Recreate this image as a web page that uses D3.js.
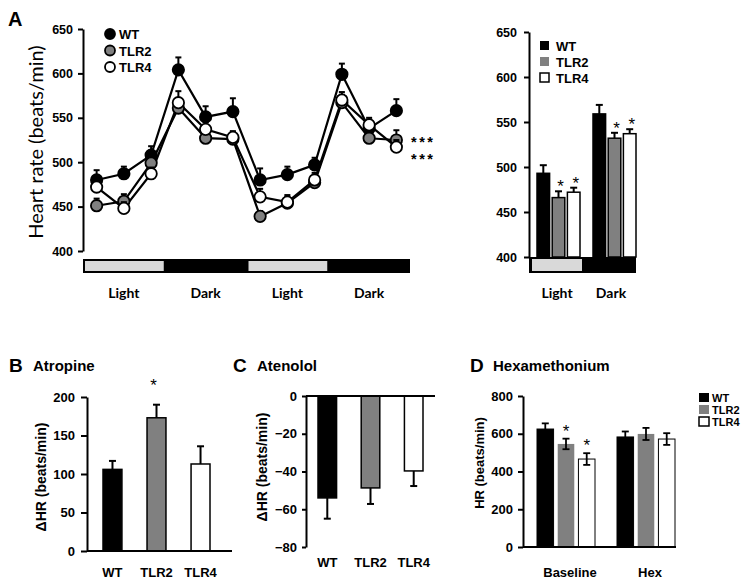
<!DOCTYPE html>
<html><head><meta charset="utf-8">
<script src="https://cdn.jsdelivr.net/npm/d3@7"></script>
<style>body{margin:0;background:#fff}svg{display:block}</style>
</head><body>
<svg id="c" width="751" height="584"></svg>
<script>
// ---------- DATA ----------
const series = ["WT", "TLR2", "TLR4"];
const timepoints = [1,2,3,4,5,6,7,8,9,10,11,12];
const periods = ["Light", "Dark", "Light", "Dark"];
const hrWT   = [480,487,508,604,551,557,480,486,497,599,538,558];
const hrTLR2 = [451,456,499,561,527,526,439,454,477,567,527,525];
const hrTLR4 = [472,448,487,567,537,528,461,455,480,570,542,517];
const errWT   = [11,8,10,14,12,15,13,9,8,12,10,13];
const errTLR2 = [8,8,8,10,8,8,6,7,7,9,8,11];
const errTLR4 = [8,7,7,13,8,7,9,8,8,9,8,8];
const yTicksA = [400,450,500,550,600,650];
const endSig = ["***", "***"];

const avgPeriods = ["Light", "Dark"];
const avgWT = [493, 559], avgTLR2 = [466, 532], avgTLR4 = [472, 537];
const avgErrWT = [9, 10], avgErrTLR2 = [7, 6], avgErrTLR4 = [5, 5];
const avgSig = [[false,true,true],[false,true,true]];

const atropine = [106, 173, 113], atropineErr = [11, 17, 23];
const atropineSig = [false, true, false];
const yTicksB = [0,50,100,150,200];

const atenolol = [-54, -48.7, -39.7], atenololErr = [11, 8.5, 8];
const yTicksC = [-80,-60,-40,-20,0];

const hexGroups = ["Baseline", "Hex"];
const hexWT = [625, 583], hexTLR2 = [546, 599], hexTLR4 = [466, 572];
const hexErrWT = [30, 29], hexErrTLR2 = [28, 32], hexErrTLR4 = [31, 31];
const hexSig = [[false,true,true],[false,false,false]];
const yTicksD = [0,200,400,600,800];

// ---------- STYLE ----------
const fills = {WT: "#000000", TLR2: "#808080", TLR4: "#ffffff"};
const AR = "'Liberation Sans', Arial, sans-serif";
const CAL = "Lato, 'Open Sans', sans-serif";
const svg = d3.select("#c");

function styleAxis(g, size) {
  g.selectAll("path.domain").attr("stroke", "#000").attr("stroke-width", 2);
  g.selectAll(".tick line").attr("stroke", "#000").attr("stroke-width", 2);
  g.selectAll(".tick text").attr("font-family", AR).attr("font-weight", "bold")
    .attr("font-size", size).attr("fill", "#000");
}
function txt(x, y, s, o = {}) {
  return svg.append("text").attr("x", x).attr("y", y).text(s)
    .attr("font-family", o.ff || AR).attr("font-weight", o.fw || "bold")
    .attr("font-size", o.fs || 13).attr("text-anchor", o.anchor || "start")
    .attr("fill", "#000");
}
function vtitle(x, cy, s, fs, ff) {
  svg.append("text").attr("transform", `translate(${x},${cy}) rotate(-90)`)
    .attr("text-anchor", "middle").attr("font-family", ff || AR)
    .attr("font-weight", ff === CAL ? "normal" : "bold")
    .attr("font-size", fs).text(s);
}

// ---------- PANEL A (line) ----------
const xA = d3.scaleBand().domain(timepoints).range([83, 410]);
const yA = d3.scaleLinear().domain([400, 650]).range([251, 29]);
const cx = t => xA(t) + xA.bandwidth() / 2;

const gAy = svg.append("g").attr("transform", "translate(83,0)")
  .call(d3.axisLeft(yA).tickValues(yTicksA).tickSize(5).tickSizeOuter(0).tickPadding(5));
styleAxis(gAy, 12.5);

// photoperiod strip
const stripA = svg.append("g");
stripA.append("rect").attr("x", 83).attr("y", 259).attr("width", 327).attr("height", 14).attr("fill", "#000");
periods.forEach((p, i) => {
  const x0 = xA(timepoints[i * 3]), x1 = x0 + 3 * xA.step();
  if (p === "Light") {
    stripA.append("rect").attr("x", x0 + 2).attr("y", 261).attr("width", x1 - x0 - 3)
      .attr("height", 10).attr("fill", "#d9d9d9");
  }
  txt((x0 + x1) / 2, 298, p, {ff: CAL, fs: 14, anchor: "middle"});
});

const lineData = [
  {s: "WT", v: hrWT, e: errWT},
  {s: "TLR2", v: hrTLR2, e: errTLR2},
  {s: "TLR4", v: hrTLR4, e: errTLR4}
];
const line = d3.line().x((d, i) => cx(timepoints[i])).y(d => yA(d));
lineData.forEach(ser => {
  svg.append("path").attr("d", line(ser.v)).attr("fill", "none")
    .attr("stroke", "#000").attr("stroke-width", 2.2);
});
lineData.forEach(ser => {
  const g = svg.append("g");
  ser.v.forEach((v, i) => {
    const x = cx(timepoints[i]);
    g.append("line").attr("x1", x).attr("x2", x).attr("y1", yA(v)).attr("y2", yA(v + ser.e[i]))
      .attr("stroke", "#000").attr("stroke-width", 2);
    g.append("line").attr("x1", x - 3).attr("x2", x + 3).attr("y1", yA(v + ser.e[i])).attr("y2", yA(v + ser.e[i]))
      .attr("stroke", "#000").attr("stroke-width", 2);
  });
  ser.v.forEach((v, i) => {
    g.append("circle").attr("cx", cx(timepoints[i])).attr("cy", yA(v)).attr("r", 5.7)
      .attr("fill", fills[ser.s]).attr("stroke", "#000").attr("stroke-width", 1.8);
  });
});
// legend
series.forEach((s, i) => {
  const y = 34 + i * 16.5;
  svg.append("circle").attr("cx", 110).attr("cy", y).attr("r", 5)
    .attr("fill", fills[s]).attr("stroke", "#000").attr("stroke-width", 1.8);
  txt(119, y + 5, s, {fs: 13});
});
endSig.forEach((s, i) => {
  txt(411, 147 + i * 16.5, s, {fs: 14.5, fw: "bold"}).attr("letter-spacing", 2.5);
});
txt(8, 26, "A", {fs: 20});
vtitle(43, 142, "Heart rate (beats/min)", 20, CAL);

// ---------- PANEL A (bars) ----------
const yR = d3.scaleLinear().domain([400, 650]).range([257, 32]);
const x0R = d3.scaleBand().domain(avgPeriods).range([537, 649]);
const x1R = d3.scaleBand().domain(series).range([0, 43]).paddingInner(0.17);
const avgVals = {WT: avgWT, TLR2: avgTLR2, TLR4: avgTLR4};
const avgErrs = {WT: avgErrWT, TLR2: avgErrTLR2, TLR4: avgErrTLR4};

svg.append("rect").attr("x", 529).attr("y", 257).attr("width", 107).attr("height", 16).attr("fill", "#000");
svg.append("rect").attr("x", 532).attr("y", 259).attr("width", x0R("Dark") - 11 - 532).attr("height", 12).attr("fill", "#d9d9d9");

avgPeriods.forEach((p, pi) => {
  series.forEach((s, si) => {
    const x = x0R(p) + x1R(s), w = x1R.bandwidth(), v = avgVals[s][pi], e = avgErrs[s][pi];
    const xc = x + w / 2;
    svg.append("line").attr("x1", xc).attr("x2", xc).attr("y1", yR(v)).attr("y2", yR(v + e)).attr("stroke", "#000").attr("stroke-width", 2);
    svg.append("line").attr("x1", xc - 3.5).attr("x2", xc + 3.5).attr("y1", yR(v + e)).attr("y2", yR(v + e)).attr("stroke", "#000").attr("stroke-width", 2);
    svg.append("rect").attr("x", x).attr("y", yR(v)).attr("width", w).attr("height", yR(400) - yR(v))
      .attr("fill", fills[s]).attr("stroke", "#000").attr("stroke-width", 1.5);
    if (avgSig[pi][si]) txt(xc + 2, yR(v + e) + 1, "*", {fs: 17, anchor: "middle", fw: "normal"});
  });
});
const gRy = svg.append("g").attr("transform", "translate(529,0)")
  .call(d3.axisLeft(yR).tickValues(yTicksA).tickSize(5).tickSizeOuter(0).tickPadding(7));
styleAxis(gRy, 12.5);
txt(557, 298, "Light", {ff: CAL, fs: 14, anchor: "middle"});
txt(611, 298, "Dark", {ff: CAL, fs: 14, anchor: "middle"});
series.forEach((s, i) => {
  const y = 41 + i * 16;
  svg.append("rect").attr("x", 540).attr("y", y).attr("width", 9).attr("height", 9)
    .attr("fill", fills[s]).attr("stroke", s === "TLR4" ? "#000" : "none").attr("stroke-width", 1.5);
  txt(556, y + 10, s, {fs: 13});
});

// ---------- PANEL B ----------
const yB = d3.scaleLinear().domain([0, 200]).range([551, 397]);
const xB = d3.scaleBand().domain(series).range([103, 210]).paddingInner(0.57);
series.forEach((s, i) => {
  const x = xB(s), w = xB.bandwidth(), v = atropine[i], e = atropineErr[i], xc = x + w / 2;
  svg.append("line").attr("x1", xc).attr("x2", xc).attr("y1", yB(v)).attr("y2", yB(v + e)).attr("stroke", "#000").attr("stroke-width", 2);
  svg.append("line").attr("x1", xc - 3.5).attr("x2", xc + 3.5).attr("y1", yB(v + e)).attr("y2", yB(v + e)).attr("stroke", "#000").attr("stroke-width", 2);
  svg.append("rect").attr("x", x).attr("y", yB(v)).attr("width", w).attr("height", yB(0) - yB(v))
    .attr("fill", fills[s]).attr("stroke", "#000").attr("stroke-width", 1.5);
  if (atropineSig[i]) txt(xc - 3, 391, "*", {fs: 17, anchor: "middle", fw: "normal"});
  txt(xc, 577, s, {fs: 13, anchor: "middle"});
});
svg.append("line").attr("x1", 87).attr("x2", 232).attr("y1", yB(0)).attr("y2", yB(0)).attr("stroke", "#000").attr("stroke-width", 2);
const gBy = svg.append("g").attr("transform", "translate(87,0)")
  .call(d3.axisLeft(yB).tickValues(yTicksB).tickSize(6).tickSizeOuter(0).tickPadding(6));
styleAxis(gBy, 13);
txt(9, 372, "B", {fs: 19});
txt(33, 371, "Atropine", {fs: 15});
vtitle(46, 477, "\u0394HR (beats/min)", 14);

// ---------- PANEL C ----------
const yC = d3.scaleLinear().domain([-80, 0]).range([547, 396]);
const xC = d3.scaleBand().domain(series).range([318, 423]).paddingInner(0.57);
series.forEach((s, i) => {
  const x = xC(s), w = xC.bandwidth(), v = atenolol[i], e = atenololErr[i], xc = x + w / 2;
  svg.append("line").attr("x1", xc).attr("x2", xc).attr("y1", yC(v)).attr("y2", yC(v - e)).attr("stroke", "#000").attr("stroke-width", 2);
  svg.append("line").attr("x1", xc - 3.5).attr("x2", xc + 3.5).attr("y1", yC(v - e)).attr("y2", yC(v - e)).attr("stroke", "#000").attr("stroke-width", 2);
  svg.append("rect").attr("x", x).attr("y", yC(0)).attr("width", w).attr("height", yC(v) - yC(0))
    .attr("fill", fills[s]).attr("stroke", "#000").attr("stroke-width", 1.5);
  txt(xc, 567, s, {fs: 13, anchor: "middle"});
});
svg.append("line").attr("x1", 306).attr("x2", 435).attr("y1", yC(0)).attr("y2", yC(0)).attr("stroke", "#000").attr("stroke-width", 2);
const gCy = svg.append("g").attr("transform", "translate(306,0)")
  .call(d3.axisLeft(yC).tickValues(yTicksC).tickSize(4).tickSizeOuter(0).tickPadding(5));
styleAxis(gCy, 13);
txt(233, 372, "C", {fs: 19});
txt(257, 371, "Atenolol", {fs: 15});
vtitle(267, 467, "\u0394HR (beats/min)", 14);

// ---------- PANEL D ----------
const yD = d3.scaleLinear().domain([0, 800]).range([547, 396]);
const x0D = d3.scaleBand().domain(hexGroups).range([537, 697]);
const x1D = d3.scaleBand().domain(series).range([0, 58]).paddingInner(0.2);
const hexVals = {WT: hexWT, TLR2: hexTLR2, TLR4: hexTLR4};
const hexErrs = {WT: hexErrWT, TLR2: hexErrTLR2, TLR4: hexErrTLR4};
hexGroups.forEach((gname, gi) => {
  series.forEach((s, si) => {
    const x = x0D(gname) + x1D(s), w = x1D.bandwidth(), v = hexVals[s][gi], e = hexErrs[s][gi], xc = x + w / 2;
    svg.append("rect").attr("x", x).attr("y", yD(v)).attr("width", w).attr("height", yD(0) - yD(v))
      .attr("fill", fills[s]).attr("stroke", s === "TLR2" ? "none" : "#000").attr("stroke-width", 1);
    svg.append("line").attr("x1", xc).attr("x2", xc).attr("y1", yD(v - e)).attr("y2", yD(v + e)).attr("stroke", "#000").attr("stroke-width", 1.8);
    [v - e, v + e].forEach(yy => {
      svg.append("line").attr("x1", xc - 3.5).attr("x2", xc + 3.5).attr("y1", yD(yy)).attr("y2", yD(yy)).attr("stroke", "#000").attr("stroke-width", 1.8);
    });
    if (hexSig[gi][si]) txt(xc, yD(v + e) - 2, "*", {fs: 17, anchor: "middle", fw: "normal"});
  });
  txt(x0D(gname) + 33, 577, gname, {fs: 13, anchor: "middle"});
});
svg.append("line").attr("x1", 523).attr("x2", 676).attr("y1", yD(0)).attr("y2", yD(0)).attr("stroke", "#000").attr("stroke-width", 2);
const gDy = svg.append("g").attr("transform", "translate(523,0)")
  .call(d3.axisLeft(yD).tickValues(yTicksD).tickSize(5).tickSizeOuter(0).tickPadding(5));
styleAxis(gDy, 13);
txt(470, 372, "D", {fs: 19});
txt(493, 371, "Hexamethonium", {fs: 15});
vtitle(484, 463, "HR (beats/min)", 13);
series.forEach((s, i) => {
  const y = 393 + i * 12;
  svg.append("rect").attr("x", 699).attr("y", y).attr("width", 10).attr("height", 9)
    .attr("fill", fills[s]).attr("stroke", s === "TLR4" ? "#000" : "none").attr("stroke-width", 1.5);
  txt(712, y + 9, s, {fs: 11});
});
</script>
</body></html>
